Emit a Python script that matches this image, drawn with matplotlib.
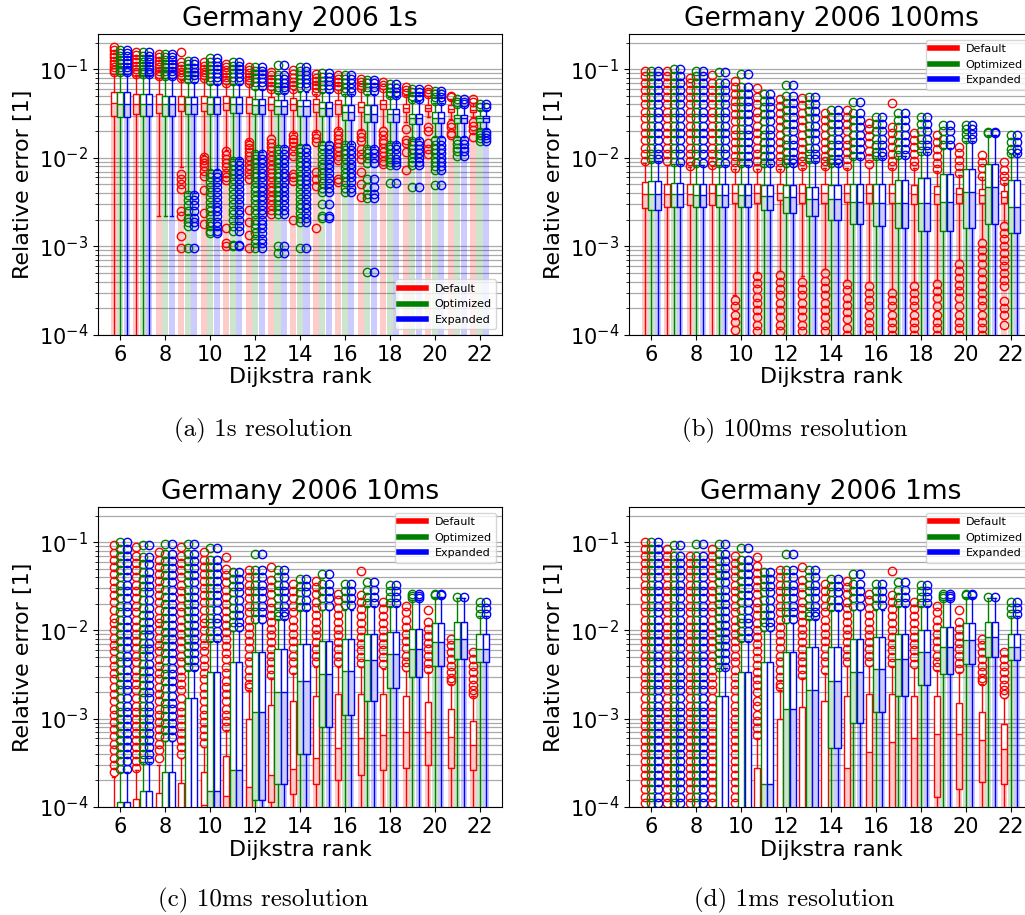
import matplotlib
matplotlib.use("Agg")
import matplotlib.pyplot as plt
from matplotlib.lines import Line2D

RANKS = list(range(6, 23))
SERIES = ["Default", "Optimized", "Expanded"]
COLORS = ["red", "green", "blue"]
TITLES = ["Germany 2006 1s", "Germany 2006 100ms", "Germany 2006 10ms", "Germany 2006 1ms"]
CAPTIONS = ["(a) 1s resolution", "(b) 100ms resolution", "(c) 10ms resolution", "(d) 1ms resolution"]

# box stats per rank: (whisker low, q1, median, q3, whisker high); 1e-6 = whisker runs off the axis

# ---- 1s ----
A_DEF_BOX = [(1e-6, 0.030, 0.0415, 0.055, 0.088), (1e-6, 0.031, 0.041, 0.053, 0.085),
             (0.0022, 0.032, 0.041, 0.052, 0.080), (0.0079, 0.0335, 0.041, 0.050, 0.075),
             (0.0107, 0.0337, 0.0415, 0.050, 0.078), (0.0121, 0.0343, 0.042, 0.050, 0.068),
             (0.016, 0.032, 0.040, 0.048, 0.068), (0.0179, 0.0343, 0.041, 0.048, 0.058),
             (0.019, 0.035, 0.041, 0.047, 0.058), (0.0195, 0.0328, 0.040, 0.046, 0.053),
             (0.021, 0.0315, 0.040, 0.0445, 0.058), (0.0204, 0.0328, 0.0374, 0.0425, 0.060),
             (0.022, 0.0357, 0.040, 0.0445, 0.060), (0.0253, 0.0328, 0.0367, 0.041, 0.051),
             (0.0288, 0.0338, 0.0367, 0.0395, 0.050), (0.0277, 0.0328, 0.0358, 0.0395, 0.046),
             (0.029, 0.0328, 0.035, 0.038, 0.042)]
A_DEF_FLIERS = [
    [0.178, 0.165, 0.15, 0.138, 0.125, 0.115, 0.105, 0.097, 0.092],
    [0.155, 0.143, 0.13, 0.12, 0.11, 0.10, 0.092, 0.088],
    [0.15, 0.138, 0.125, 0.115, 0.105, 0.096, 0.088, 0.083],
    [0.155, 0.12, 0.11, 0.10, 0.092, 0.085, 0.08, 0.0066, 0.0058, 0.005, 0.0044, 0.0025, 0.0022, 0.0013, 0.00097],
    [0.12, 0.11, 0.10, 0.092, 0.085, 0.08, 0.0102, 0.0095, 0.0088, 0.008, 0.0071, 0.0062, 0.0043, 0.0024, 0.0018],
    [0.115, 0.105, 0.097, 0.09, 0.082, 0.075, 0.07, 0.0118, 0.0108, 0.0098, 0.0088, 0.0078, 0.0068, 0.006,
     0.0056, 0.0016, 0.00108, 0.001],
    [0.105, 0.097, 0.09, 0.082, 0.075, 0.07, 0.0152, 0.014, 0.0128, 0.0116, 0.0105, 0.0094, 0.0084, 0.0075,
     0.0066, 0.0058, 0.0026, 0.0019, 0.00135, 0.00097],
    [0.092, 0.085, 0.078, 0.071, 0.065, 0.06, 0.0165, 0.0148, 0.0132, 0.0118, 0.0105, 0.0094, 0.0084, 0.0075,
     0.0067, 0.006, 0.0053, 0.0047, 0.0042, 0.0037, 0.0033, 0.0029, 0.0026, 0.0023],
    [0.097, 0.088, 0.08, 0.072, 0.066, 0.06, 0.018, 0.0165, 0.015, 0.0135, 0.012, 0.0106, 0.0066, 0.006,
     0.0055, 0.002],
    [0.088, 0.08, 0.073, 0.067, 0.061, 0.056, 0.0185, 0.0167, 0.015, 0.0069, 0.0058, 0.0048, 0.0016],
    [0.085, 0.078, 0.071, 0.065, 0.06, 0.02, 0.018, 0.0163, 0.0147, 0.0132, 0.0118, 0.0105, 0.0094, 0.0058, 0.0054],
    [0.078, 0.072, 0.067, 0.062, 0.019, 0.017, 0.0155, 0.0126, 0.011, 0.0098, 0.0069, 0.0051, 0.0036],
    [0.072, 0.067, 0.062, 0.02, 0.018, 0.016, 0.0145, 0.013, 0.0116, 0.0104, 0.0093, 0.0086],
    [0.063, 0.058, 0.054, 0.021, 0.0157, 0.0145, 0.0116, 0.0072],
    [0.06, 0.056, 0.052, 0.022, 0.02, 0.0145, 0.0125, 0.011],
    [0.05, 0.048, 0.024, 0.022, 0.019, 0.018],
    [0.046, 0.043, 0.0255, 0.023, 0.0205, 0.017],
]
A_OPT_BOX = [(1e-6, 0.029, 0.041, 0.055, 0.088), (1e-6, 0.030, 0.040, 0.052, 0.085),
             (0.0022, 0.030, 0.040, 0.050, 0.080), (0.0040, 0.031, 0.040, 0.049, 0.072),
             (0.0072, 0.031, 0.040, 0.048, 0.068), (0.0097, 0.032, 0.040, 0.048, 0.068),
             (0.0116, 0.031, 0.039, 0.046, 0.060), (0.0132, 0.031, 0.038, 0.045, 0.054),
             (0.0138, 0.0293, 0.038, 0.0445, 0.056), (0.015, 0.0293, 0.0367, 0.0425, 0.055),
             (0.0144, 0.0268, 0.0328, 0.039, 0.052), (0.0132, 0.0253, 0.0314, 0.039, 0.053),
             (0.0145, 0.0255, 0.031, 0.036, 0.048), (0.0164, 0.0242, 0.028, 0.0314, 0.044),
             (0.017, 0.0245, 0.028, 0.033, 0.042), (0.017, 0.0248, 0.0278, 0.0302, 0.038),
             (0.021, 0.0253, 0.028, 0.030, 0.035)]
A_OPT_FLIERS = [
    [0.165, 0.152, 0.14, 0.128, 0.117, 0.107, 0.098, 0.092],
    [0.155, 0.142, 0.13, 0.12, 0.11, 0.10, 0.092, 0.088],
    [0.15, 0.138, 0.126, 0.115, 0.105, 0.096, 0.088, 0.083],
    [0.125, 0.113, 0.103, 0.094, 0.086, 0.078, 0.0038, 0.0033, 0.0029, 0.0025, 0.0021, 0.0019, 0.0017, 0.00096],
    [0.135, 0.122, 0.11, 0.10, 0.09, 0.081, 0.073, 0.0068, 0.006, 0.0053, 0.0047, 0.0041, 0.0036, 0.0032,
     0.0028, 0.0025, 0.0022, 0.0019, 0.0017, 0.0015, 0.0014],
    [0.12, 0.11, 0.10, 0.09, 0.081, 0.073, 0.0092, 0.0082, 0.0073, 0.0065, 0.0057, 0.005, 0.0044, 0.0039,
     0.0034, 0.003, 0.0026, 0.0023, 0.002, 0.0017, 0.0015, 0.00105, 0.001],
    [0.105, 0.096, 0.088, 0.08, 0.072, 0.065, 0.011, 0.0098, 0.0087, 0.0077, 0.0068, 0.006, 0.0053, 0.0047,
     0.0042, 0.0037, 0.0033, 0.0029, 0.0026, 0.0023, 0.002, 0.0018, 0.0016, 0.0014, 0.0012, 0.0011, 0.00095],
    [0.112, 0.085, 0.078, 0.07, 0.063, 0.058, 0.0125, 0.011, 0.0098, 0.0087, 0.0077, 0.0068, 0.006, 0.0053,
     0.0047, 0.0042, 0.0037, 0.0033, 0.0029, 0.0026, 0.0023, 0.001, 0.00085],
    [0.105, 0.095, 0.086, 0.078, 0.07, 0.063, 0.013, 0.0115, 0.0102, 0.009, 0.008, 0.0071, 0.0063, 0.0056,
     0.005, 0.0044, 0.0039, 0.0034, 0.003, 0.0027, 0.0024, 0.0021, 0.0019, 0.00097],
    [0.09, 0.082, 0.074, 0.067, 0.06, 0.014, 0.0125, 0.011, 0.0097, 0.0086, 0.0076, 0.0067, 0.0059, 0.0052,
     0.0046, 0.0041, 0.003, 0.0022, 0.0021],
    [0.085, 0.077, 0.069, 0.062, 0.056, 0.0138, 0.0122, 0.011, 0.0097, 0.0086, 0.0076, 0.0067, 0.006, 0.0053,
     0.0046, 0.0041],
    [0.075, 0.069, 0.063, 0.057, 0.0125, 0.0112, 0.01, 0.0088, 0.0058, 0.0047, 0.0039, 0.0035, 0.00052],
    [0.068, 0.062, 0.056, 0.051, 0.014, 0.0125, 0.011, 0.0098, 0.009, 0.0082, 0.0052],
    [0.06, 0.055, 0.05, 0.046, 0.0155, 0.014, 0.0125, 0.0112, 0.01, 0.009, 0.0082, 0.0047],
    [0.057, 0.052, 0.048, 0.044, 0.0158, 0.014, 0.0125, 0.0112, 0.01, 0.009, 0.008, 0.0072, 0.0049],
    [0.046, 0.043, 0.04, 0.0158, 0.0142, 0.013, 0.0118, 0.0104],
    [0.04, 0.037, 0.0195, 0.018, 0.0167, 0.0155],
]
A_EXP_BOX = A_OPT_BOX        # Expanded sits on top of Optimized at 1s
A_EXP_FLIERS = A_OPT_FLIERS

# ---- 100ms ----
B_DEF_BOX = [(1e-6, 0.0027, 0.0039, 0.0053, 0.0088), (1e-6, 0.0028, 0.0039, 0.0051, 0.0084),
             (1e-6, 0.0029, 0.0039, 0.0050, 0.0078), (1e-6, 0.0029, 0.0040, 0.0051, 0.0080),
             (0.00028, 0.0031, 0.0040, 0.0051, 0.0074), (0.0005, 0.0031, 0.0040, 0.0051, 0.0074),
             (0.00053, 0.0033, 0.0040, 0.0051, 0.0074), (0.00046, 0.0031, 0.0040, 0.0050, 0.0077),
             (0.00055, 0.0031, 0.0040, 0.0050, 0.0077), (0.00042, 0.0032, 0.0040, 0.0051, 0.0077),
             (0.0004, 0.0031, 0.0040, 0.0050, 0.0077), (0.00033, 0.0031, 0.0040, 0.0050, 0.0077),
             (0.0004, 0.0030, 0.0039, 0.0049, 0.0077), (0.00042, 0.0030, 0.0039, 0.0048, 0.0071),
             (0.0007, 0.0031, 0.0039, 0.0046, 0.0064), (0.0012, 0.0031, 0.0038, 0.0045, 0.006),
             (0.0019, 0.0031, 0.0036, 0.0042, 0.0052)]
B_DEF_FLIERS = [
    [0.095, 0.083, 0.069, 0.058, 0.048, 0.040, 0.033, 0.028, 0.023, 0.019, 0.016, 0.013, 0.011, 0.0093],
    [0.095, 0.083, 0.069, 0.058, 0.048, 0.040, 0.033, 0.028, 0.023, 0.019, 0.016, 0.013, 0.011, 0.0091],
    [0.079, 0.069, 0.058, 0.048, 0.040, 0.033, 0.028, 0.023, 0.019, 0.016, 0.013, 0.011, 0.0093, 0.0081],
    [0.085, 0.069, 0.058, 0.048, 0.040, 0.033, 0.028, 0.023, 0.019, 0.016, 0.013, 0.011, 0.0093, 0.0082],
    [0.073, 0.063, 0.053, 0.044, 0.037, 0.031, 0.026, 0.021, 0.018, 0.015, 0.0125, 0.0105, 0.0089, 0.0077,
     0.00025, 0.00021, 0.00017, 0.00014, 0.000115],
    [0.061, 0.049, 0.040, 0.033, 0.028, 0.023, 0.019, 0.016, 0.013, 0.011, 0.0091, 0.0077,
     0.00046, 0.00039, 0.00033, 0.00027, 0.00023, 0.00019, 0.00016, 0.00013, 0.00011],
    [0.046, 0.038, 0.032, 0.027, 0.022, 0.018, 0.015, 0.0125, 0.0105, 0.0089, 0.0077,
     0.00048, 0.0004, 0.00033, 0.00028, 0.00023, 0.00019, 0.00016, 0.00013, 0.00011],
    [0.047, 0.039, 0.032, 0.027, 0.022, 0.018, 0.015, 0.0125, 0.0105, 0.0092, 0.008,
     0.0004, 0.00033, 0.00028, 0.00023, 0.00019, 0.00016, 0.00013, 0.00011],
    [0.032, 0.027, 0.022, 0.018, 0.015, 0.0125, 0.0105, 0.0092, 0.008,
     0.0005, 0.00041, 0.00034, 0.00028, 0.00023, 0.00019, 0.00016, 0.00013, 0.00011],
    [0.035, 0.029, 0.024, 0.02, 0.0165, 0.0138, 0.0115, 0.0096, 0.008,
     0.00038, 0.00032, 0.00026, 0.00022, 0.00018, 0.00015, 0.00012, 0.0001],
    [0.025, 0.021, 0.0175, 0.0145, 0.012, 0.01, 0.0085,
     0.00036, 0.0003, 0.00025, 0.00021, 0.00017, 0.00014, 0.00012, 0.0001],
    [0.042, 0.0225, 0.019, 0.016, 0.0133, 0.011, 0.0093, 0.008,
     0.0003, 0.00025, 0.00021, 0.00017, 0.00014, 0.00012, 0.0001],
    [0.019, 0.016, 0.0133, 0.011, 0.0093, 0.008,
     0.00036, 0.0003, 0.00025, 0.00021, 0.00017, 0.00014, 0.00012, 0.0001],
    [0.018, 0.015, 0.0125, 0.0105, 0.0088, 0.0075,
     0.00038, 0.00031, 0.00026, 0.00021, 0.00017, 0.00014, 0.00012, 0.0001],
    [0.0134, 0.0112, 0.0094, 0.008, 0.0068, 0.00064, 0.00053, 0.00044, 0.00037, 0.00031, 0.00026, 0.00021,
     0.00017, 0.00014, 0.00012, 0.0001],
    [0.0108, 0.009, 0.0076, 0.0063, 0.0011, 0.00091, 0.00076, 0.00063, 0.00052, 0.00043, 0.00036, 0.0003,
     0.00025, 0.00021, 0.00017, 0.00014, 0.00012, 0.0001],
    [0.009, 0.0073, 0.0063, 0.0055, 0.0017, 0.0014, 0.0012, 0.001, 0.00085, 0.00071, 0.0006, 0.0005,
     0.00042, 0.00036, 0.00024, 0.0002, 0.00017, 0.00013],
]
B_OPT_BOX = [(1e-6, 0.0026, 0.0039, 0.0055, 0.0092), (1e-6, 0.0028, 0.0039, 0.0052, 0.0086),
             (1e-6, 0.0028, 0.0038, 0.0051, 0.0084), (1e-6, 0.0028, 0.0038, 0.0051, 0.0084),
             (1e-6, 0.0028, 0.0038, 0.0051, 0.0084), (1e-6, 0.0026, 0.0037, 0.0049, 0.0085),
             (1e-6, 0.0024, 0.0036, 0.0049, 0.0085), (1e-6, 0.0022, 0.0034, 0.0047, 0.0092),
             (1e-6, 0.0020, 0.0034, 0.0049, 0.0085), (1e-6, 0.0018, 0.0032, 0.0050, 0.0100),
             (1e-6, 0.0017, 0.0031, 0.0050, 0.0100), (1e-6, 0.0016, 0.0031, 0.0056, 0.0105),
             (1e-6, 0.0015, 0.0031, 0.0059, 0.0115), (1e-6, 0.0015, 0.0032, 0.0065, 0.013),
             (1e-6, 0.0016, 0.0041, 0.0075, 0.0155), (1e-6, 0.0018, 0.0047, 0.0085, 0.018),
             (1e-6, 0.0014, 0.0028, 0.0056, 0.011)]
B_OPT_FLIERS = [
    [0.095, 0.083, 0.069, 0.058, 0.048, 0.040, 0.033, 0.028, 0.023, 0.019, 0.016, 0.013, 0.011, 0.0096],
    [0.1, 0.083, 0.069, 0.058, 0.048, 0.040, 0.033, 0.028, 0.023, 0.019, 0.016, 0.013, 0.011, 0.0089],
    [0.095, 0.083, 0.069, 0.058, 0.048, 0.040, 0.033, 0.028, 0.023, 0.019, 0.016, 0.013, 0.011, 0.0087],
    [0.092, 0.069, 0.058, 0.048, 0.040, 0.033, 0.028, 0.023, 0.019, 0.016, 0.013, 0.011, 0.0087],
    [0.089, 0.063, 0.053, 0.044, 0.037, 0.031, 0.026, 0.021, 0.018, 0.015, 0.0125, 0.0105, 0.0087],
    [0.052, 0.044, 0.037, 0.031, 0.026, 0.021, 0.018, 0.015, 0.0125, 0.0105, 0.0088],
    [0.067, 0.05, 0.042, 0.035, 0.029, 0.024, 0.02, 0.0165, 0.0138, 0.0115, 0.0096, 0.0088],
    [0.049, 0.041, 0.034, 0.028, 0.023, 0.019, 0.016, 0.013, 0.011, 0.0096],
    [0.035, 0.029, 0.024, 0.02, 0.0165, 0.0138, 0.0115, 0.0096, 0.0088],
    [0.043, 0.032, 0.027, 0.022, 0.018, 0.015, 0.0125, 0.0105],
    [0.029, 0.024, 0.02, 0.0165, 0.0138, 0.0115, 0.0104],
    [0.032, 0.027, 0.022, 0.018, 0.015, 0.0125, 0.0108],
    [0.029, 0.024, 0.02, 0.0165, 0.0138, 0.0118],
    [0.0236, 0.02, 0.0165, 0.0138],
    [0.0236, 0.021, 0.0185, 0.0165],
    [0.0195, 0.019],
    [0.018, 0.015, 0.0125, 0.0113],
]
B_EXP_BOX = B_OPT_BOX
B_EXP_FLIERS = B_OPT_FLIERS

# ---- 10ms ----
C_DEF_BOX = [(1e-6, 2e-5, 4e-5, 8e-5, 0.00022), (1e-6, 3e-5, 6e-5, 0.000124, 0.00026),
             (1e-6, 3e-5, 7e-5, 0.000146, 0.0003), (1e-6, 4e-5, 8e-5, 0.000188, 0.00036),
             (1e-6, 5e-5, 0.000105, 0.00025, 0.00048), (1e-6, 5e-5, 0.000135, 0.00038, 0.00075),
             (1e-6, 6e-5, 0.00017, 0.001, 0.0021), (1e-6, 0.000115, 0.00023, 0.00143, 0.0029),
             (1e-6, 0.00014, 0.00027, 0.0016, 0.0033), (1e-6, 0.00018, 0.00036, 0.0018, 0.0039),
             (1e-6, 0.0002, 0.00047, 0.0019, 0.0039), (1e-6, 0.00023, 0.0006, 0.0019, 0.0039),
             (1e-6, 0.00026, 0.00066, 0.0019, 0.0037), (1e-6, 0.00028, 0.00071, 0.0018, 0.0035),
             (1e-6, 0.0003, 0.00071, 0.00156, 0.0034), (1e-6, 0.00028, 0.00062, 0.0013, 0.0025),
             (1e-6, 0.00026, 0.0005, 0.00095, 0.0018)]
C_DEF_FLIERS = [
    [0.092, 0.076, 0.063, 0.052, 0.044, 0.036, 0.030, 0.025, 0.021, 0.017, 0.014, 0.012, 0.010, 0.0083,
     0.0069, 0.0058, 0.0048, 0.0040, 0.0033, 0.0028, 0.0023, 0.0019, 0.0016, 0.0013, 0.0011, 0.00091,
     0.00076, 0.00063, 0.00052, 0.00044, 0.00036, 0.00030, 0.00025],
    [0.088, 0.069, 0.058, 0.048, 0.040, 0.033, 0.028, 0.023, 0.019, 0.016, 0.013, 0.011, 0.0091, 0.0076,
     0.0063, 0.0052, 0.0044, 0.0036, 0.0030, 0.0025, 0.0021, 0.0017, 0.0014, 0.0012, 0.0010, 0.00083,
     0.00069, 0.00058, 0.00048, 0.00040, 0.00033, 0.00028],
    [0.077, 0.063, 0.052, 0.044, 0.036, 0.030, 0.025, 0.021, 0.017, 0.014, 0.012, 0.010, 0.0083, 0.0069,
     0.0058, 0.0048, 0.0040, 0.0033, 0.0028, 0.0023, 0.0019, 0.0016, 0.0013, 0.0011, 0.00091, 0.00076,
     0.00063, 0.00052, 0.00044, 0.00036],
    [0.088, 0.069, 0.058, 0.048, 0.040, 0.033, 0.028, 0.023, 0.019, 0.016, 0.013, 0.011, 0.0091, 0.0076,
     0.0063, 0.0052, 0.0044, 0.0036, 0.0030, 0.0025, 0.0021, 0.0017, 0.0014, 0.0012, 0.0010, 0.00083,
     0.00069, 0.00058, 0.00048, 0.00040],
    [0.077, 0.063, 0.052, 0.044, 0.036, 0.030, 0.025, 0.021, 0.017, 0.014, 0.012, 0.010, 0.0083, 0.0069,
     0.0058, 0.0048, 0.0040, 0.0033, 0.0028, 0.0023, 0.0019, 0.0016, 0.0013, 0.0011, 0.00091, 0.00076,
     0.00063, 0.00053],
    [0.068, 0.050, 0.042, 0.035, 0.029, 0.024, 0.020, 0.0165, 0.0138, 0.0115, 0.0096, 0.008, 0.0067, 0.0056,
     0.0047, 0.0039, 0.0033, 0.0027, 0.0023, 0.0019, 0.0016, 0.0013, 0.0011, 0.00095, 0.00081],
    [0.048, 0.040, 0.033, 0.028, 0.023, 0.019, 0.016, 0.013, 0.011, 0.0091, 0.0076, 0.0063, 0.0052, 0.0044,
     0.0036, 0.0030, 0.0025, 0.0023],
    [0.052, 0.037, 0.031, 0.026, 0.021, 0.018, 0.015, 0.0125, 0.0105, 0.0088, 0.0074, 0.0062, 0.0052, 0.0044,
     0.0037, 0.0031],
    [0.034, 0.028, 0.023, 0.019, 0.016, 0.013, 0.011, 0.0091, 0.0076, 0.0063, 0.0052, 0.0044, 0.0036],
    [0.036, 0.031, 0.026, 0.021, 0.018, 0.015, 0.0125, 0.0105, 0.0088, 0.0074, 0.0062, 0.0052, 0.0044],
    [0.026, 0.022, 0.018, 0.015, 0.0125, 0.0105, 0.0088, 0.0074, 0.0062, 0.0052, 0.0044],
    [0.047, 0.025, 0.021, 0.0175, 0.0145, 0.012, 0.01, 0.0085, 0.0071, 0.006, 0.005, 0.0043],
    [0.021, 0.0175, 0.0145, 0.012, 0.01, 0.0085, 0.0071, 0.006, 0.005, 0.0042],
    [0.019, 0.016, 0.013, 0.011, 0.0091, 0.0076, 0.0063, 0.0052, 0.0044, 0.0039],
    [0.017, 0.0124, 0.0104, 0.0087, 0.0073, 0.0061, 0.0051, 0.0043, 0.0037],
    [0.0081, 0.0068, 0.0057, 0.0048, 0.004, 0.0034, 0.0029, 0.0027],
    [0.0057, 0.0048, 0.004, 0.0034, 0.0028, 0.0024, 0.0021, 0.0019],
]
C_OPT_BOX = [(1e-6, 2e-5, 5e-5, 0.000113, 0.00025), (1e-6, 3e-5, 7e-5, 0.00015, 0.00032),
             (1e-6, 3e-5, 8e-5, 0.00025, 0.00056), (1e-6, 3e-5, 9e-5, 0.0017, 0.0036),
             (1e-6, 5e-5, 0.00015, 0.0034, 0.0076), (1e-6, 6e-5, 0.00026, 0.0044, 0.0098),
             (1e-6, 0.00012, 0.0012, 0.0057, 0.012), (1e-6, 0.00018, 0.002, 0.0062, 0.0135),
             (1e-6, 0.0004, 0.0027, 0.0071, 0.017), (1e-6, 0.0008, 0.0032, 0.0075, 0.017),
             (1e-6, 0.0011, 0.0035, 0.0081, 0.017), (1e-6, 0.0016, 0.0046, 0.0091, 0.019),
             (1e-6, 0.0022, 0.0054, 0.0096, 0.019), (1e-6, 0.003, 0.0062, 0.0105, 0.022),
             (1e-6, 0.004, 0.0074, 0.012, 0.024), (1e-6, 0.0048, 0.0081, 0.0123, 0.023),
             (1e-6, 0.0044, 0.0062, 0.0091, 0.0145)]
C_OPT_FLIERS = [
    [0.1, 0.083, 0.069, 0.058, 0.048, 0.040, 0.033, 0.028, 0.023, 0.019, 0.016, 0.013, 0.011, 0.0091, 0.0076,
     0.0063, 0.0052, 0.0044, 0.0036, 0.0030, 0.0025, 0.0021, 0.0017, 0.0014, 0.0012, 0.0010, 0.00083,
     0.00069, 0.00058, 0.00048, 0.00040, 0.00033, 0.00027],
    [0.092, 0.068, 0.056, 0.046, 0.038, 0.032, 0.027, 0.022, 0.018, 0.015, 0.0125, 0.0105, 0.0088, 0.0073,
     0.0061, 0.0051, 0.0042, 0.0035, 0.0029, 0.0024, 0.002, 0.0017, 0.0014, 0.0012, 0.001, 0.00083,
     0.00069, 0.00058, 0.00048, 0.0004, 0.00034],
    [0.095, 0.074, 0.061, 0.051, 0.042, 0.035, 0.029, 0.024, 0.02, 0.0168, 0.014, 0.0116, 0.0097, 0.0081,
     0.0067, 0.0056, 0.0046, 0.0038, 0.0032, 0.0027, 0.0022, 0.0018, 0.0015, 0.00128, 0.00107, 0.00089,
     0.00074, 0.00062],
    [0.095, 0.074, 0.061, 0.051, 0.042, 0.035, 0.029, 0.024, 0.02, 0.0168, 0.014, 0.0116, 0.0097, 0.0081,
     0.0067, 0.0056, 0.0046, 0.0039],
    [0.086, 0.063, 0.052, 0.044, 0.036, 0.030, 0.025, 0.021, 0.017, 0.014, 0.012, 0.0098, 0.0082],
    [0.046, 0.038, 0.032, 0.027, 0.022, 0.018, 0.015, 0.0125, 0.011],
    [0.073, 0.048, 0.040, 0.033, 0.028, 0.023, 0.019, 0.016, 0.0135],
    [0.048, 0.040, 0.033, 0.028, 0.023, 0.019, 0.016, 0.0145],
    [0.038, 0.032, 0.027, 0.022, 0.0185],
    [0.044, 0.034, 0.028, 0.023, 0.019],
    [0.034, 0.028, 0.023, 0.0195],
    [0.035, 0.029, 0.024, 0.0205],
    [0.033, 0.028, 0.024, 0.0205],
    [0.026, 0.0245, 0.023],
    [0.026, 0.025],
    [0.024],
    [0.021, 0.018, 0.0155],
]
C_EXP_BOX = C_OPT_BOX
C_EXP_FLIERS = C_OPT_FLIERS

# ---- 1ms ----
D_FULL_COLUMN = [0.1, 0.083, 0.069, 0.058, 0.048, 0.04, 0.033, 0.028, 0.023, 0.019, 0.016, 0.013, 0.011,
                 0.0091, 0.0076, 0.0063, 0.0052, 0.0044, 0.0036, 0.003, 0.0025, 0.0021, 0.0017, 0.0014,
                 0.0012, 0.001, 0.00083, 0.00069, 0.00058, 0.00048, 0.0004, 0.00033, 0.00028, 0.00023,
                 0.00019, 0.00016, 0.00013, 0.00011]
D_DEF_BOX = [(1e-6, 1e-5, 2e-5, 4e-5, 8e-5)] * 5 + [
             (1e-6, 2e-5, 5e-5, 0.00028, 0.0006), (1e-6, 2e-5, 6e-5, 0.001, 0.0021),
             (1e-6, 3e-5, 7e-5, 0.00136, 0.0029), (1e-6, 3e-5, 8e-5, 0.0016, 0.0033),
             (1e-6, 5e-5, 0.00028, 0.0018, 0.004), (1e-6, 6e-5, 0.00042, 0.0019, 0.004),
             (1e-6, 7e-5, 0.00054, 0.0019, 0.004), (1e-6, 8e-5, 0.0006, 0.0018, 0.0038),
             (1e-6, 0.00013, 0.00067, 0.0018, 0.0036), (1e-6, 0.00016, 0.00067, 0.0015, 0.0034),
             (1e-6, 0.00019, 0.00058, 0.0012, 0.0025), (1e-6, 0.00018, 0.00046, 0.00087, 0.0017)]
D_DEF_FLIERS = [D_FULL_COLUMN, D_FULL_COLUMN[1:], D_FULL_COLUMN[2:], D_FULL_COLUMN[1:], D_FULL_COLUMN[2:],
                [0.068, 0.054, 0.045, 0.037, 0.031, 0.026, 0.021, 0.018, 0.015, 0.0122, 0.0102, 0.0085,
                 0.0071, 0.0059, 0.0049, 0.0041, 0.0034, 0.0028, 0.0024, 0.002, 0.0016, 0.0014, 0.0011,
                 0.00095, 0.00079, 0.00065]] + C_DEF_FLIERS[6:]
D_OPT_BOX = [(1e-6, 1e-5, 2e-5, 4e-5, 8e-5)] * 3 + [
             (1e-6, 2e-5, 5e-5, 0.0018, 0.0038), (1e-6, 2e-5, 6e-5, 0.0034, 0.0076),
             (1e-6, 5e-5, 0.00018, 0.0044, 0.0098), (1e-6, 8e-5, 0.0013, 0.0057, 0.012),
             (1e-6, 9e-5, 0.0021, 0.0065, 0.0135), (1e-6, 0.00047, 0.0027, 0.0065, 0.017),
             (1e-6, 0.0009, 0.0034, 0.008, 0.017), (1e-6, 0.0012, 0.0037, 0.0084, 0.017),
             (1e-6, 0.0018, 0.0048, 0.0092, 0.019), (1e-6, 0.0024, 0.0057, 0.010, 0.019),
             (1e-6, 0.0032, 0.0065, 0.011, 0.022), (1e-6, 0.0042, 0.0077, 0.012, 0.024),
             (1e-6, 0.005, 0.0084, 0.0125, 0.023), (1e-6, 0.0046, 0.0065, 0.0092, 0.0145)]
D_OPT_FLIERS = [D_FULL_COLUMN, [0.092] + D_FULL_COLUMN[2:], [0.095] + D_FULL_COLUMN[2:]] + C_OPT_FLIERS[3:]
D_EXP_BOX = D_OPT_BOX
D_EXP_FLIERS = D_OPT_FLIERS

PANELS = [
    ([A_DEF_BOX, A_OPT_BOX, A_EXP_BOX], [A_DEF_FLIERS, A_OPT_FLIERS, A_EXP_FLIERS], "lower right"),
    ([B_DEF_BOX, B_OPT_BOX, B_EXP_BOX], [B_DEF_FLIERS, B_OPT_FLIERS, B_EXP_FLIERS], "upper right"),
    ([C_DEF_BOX, C_OPT_BOX, C_EXP_BOX], [C_DEF_FLIERS, C_OPT_FLIERS, C_EXP_FLIERS], "upper right"),
    ([D_DEF_BOX, D_OPT_BOX, D_EXP_BOX], [D_DEF_FLIERS, D_OPT_FLIERS, D_EXP_FLIERS], "upper right"),
]
OFFSETS = [-0.29, 0.0, 0.29]
WIDTH = 0.27
FLOOR = 1e-6

fig = plt.figure(figsize=(10.25, 9.15), dpi=100)
rects = [[0.0956, 0.6339, 0.3941, 0.3290], [0.6137, 0.6339, 0.3941, 0.3290],
         [0.0956, 0.1180, 0.3941, 0.3279], [0.6137, 0.1180, 0.3941, 0.3279]]
cap_pos = [(0.257, 0.530), (0.775, 0.530), (0.257, 0.016), (0.775, 0.016)]

for i, (boxes, fliers, loc) in enumerate(PANELS):
    ax = fig.add_axes(rects[i])
    ax.set_yscale("log")
    for k in range(3):
        col = COLORS[k]
        pos = [r + OFFSETS[k] for r in RANKS]
        stats = []
        for (lo, q1, med, q3, hi), fl in zip(boxes[k], fliers[k]):
            stats.append(dict(whislo=lo, q1=q1, med=med, q3=q3, whishi=hi, fliers=fl))
        ax.bxp(stats, positions=pos, widths=WIDTH, patch_artist=True, manage_ticks=False,
               boxprops=dict(facecolor="white", edgecolor=col, linewidth=1.0),
               medianprops=dict(color=col, linewidth=1.0),
               whiskerprops=dict(color=col, linewidth=1.0),
               capprops=dict(color=col, linewidth=1.0),
               flierprops=dict(marker="o", markerfacecolor="none", markeredgecolor=col,
                               markersize=6, markeredgewidth=1.0))
        meds = [b[2] for b in boxes[k]]
        ax.bar(pos, [m - FLOOR for m in meds], bottom=FLOOR, width=WIDTH, color=col,
               alpha=0.2, zorder=3, linewidth=0)
    ax.set_ylim(1e-4, 0.25)
    ax.set_xlim(5, 23)
    ax.set_xticks(range(6, 23, 2))
    ax.grid(True, which="both", axis="y", color="#aaaaaa", linewidth=0.9)
    ax.set_axisbelow(True)
    ax.tick_params(axis="both", which="major", labelsize=15)
    ax.set_title(TITLES[i], fontsize=19)
    ax.set_xlabel("Dijkstra rank", fontsize=16, labelpad=2)
    ax.set_ylabel("Relative error [1]", fontsize=16)
    handles = [Line2D([], [], color=c, linewidth=4) for c in COLORS]
    ax.legend(handles, SERIES, loc=loc, fontsize=8, handlelength=2.4)
    fig.text(cap_pos[i][0], cap_pos[i][1], CAPTIONS[i], family="cmr10", fontsize=18,
             ha="center", va="center")

fig.savefig("out.png", dpi=100)
